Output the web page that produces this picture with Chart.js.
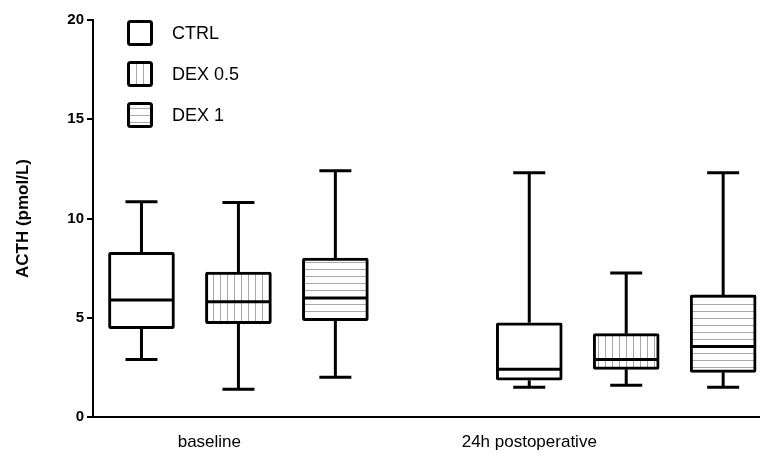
<!DOCTYPE html>
<html>
<head>
<meta charset="utf-8">
<script src="https://cdn.jsdelivr.net/npm/chart.js@4.4.1/dist/chart.umd.min.js"></script>
<style>
html, body { margin: 0; padding: 0; background: #fff; }
#wrap { width: 760px; height: 456px; }
</style>
</head>
<body>
<div id="wrap"><canvas id="acthChart"></canvas></div>
<script>
// 시점 (x축 그룹)
const groups = ['baseline', '24h postoperative'];
// x축 라벨 위치 (그룹 라벨이 놓인 자리)
const groupLabelPos = [1.7, 5.0];

// 시리즈 이름
const seriesNames = ['CTRL', 'DEX 0.5', 'DEX 1'];

// 박스플롯 값 (min, Q1, median, Q3, max) - 그림에서 읽은 값
const ctrlMin = [2.9, 1.5];
const ctrlQ1 = [4.45, 1.85];
const ctrlMedian = [5.9, 2.4];
const ctrlQ3 = [8.3, 4.75];
const ctrlMax = [10.85, 12.3];

const dex05Min = [1.4, 1.6];
const dex05Q1 = [4.7, 2.4];
const dex05Median = [5.8, 2.9];
const dex05Q3 = [7.3, 4.2];
const dex05Max = [10.8, 7.25];

const dex1Min = [2.0, 1.5];
const dex1Q1 = [4.85, 2.25];
const dex1Median = [6.0, 3.55];
const dex1Q3 = [8.0, 6.15];
const dex1Max = [12.4, 12.3];

// y축 눈금
const yTicks = [0, 5, 10, 15, 20];

const canvas = document.getElementById('acthChart');
const ctx = canvas.getContext('2d');

// 줄무늬 패턴 만들기 ('v' 세로, 'h' 가로, 없으면 흰색)
function makePattern(dir) {
    const c = document.createElement('canvas');
    c.width = 7;
    c.height = 7;
    const g = c.getContext('2d');
    g.fillStyle = '#fff';
    g.fillRect(0, 0, 7, 7);
    g.fillStyle = '#a8a8a8';
    if (dir === 'v') g.fillRect(3, 0, 1, 7);
    if (dir === 'h') g.fillRect(0, 3, 7, 1);
    return ctx.createPattern(c, 'repeat');
}

const fills = [makePattern(''), makePattern('v'), makePattern('h')];
const stats = [
    { min: ctrlMin, q1: ctrlQ1, med: ctrlMedian, q3: ctrlQ3, max: ctrlMax },
    { min: dex05Min, q1: dex05Q1, med: dex05Median, q3: dex05Q3, max: dex05Max },
    { min: dex1Min, q1: dex1Q1, med: dex1Median, q3: dex1Q3, max: dex1Max }
];

const BOX_W = 66;

// 박스는 floating bar 로 그림
const datasets = seriesNames.map((name, si) => {
    const s = stats[si];
    return {
        label: name,
        data: groups.map((g, gi) => ({ x: gi * 4 + si + 1, y: [s.q1[gi], s.q3[gi]] })),
        backgroundColor: fills[si],
        borderColor: '#000',
        borderWidth: 3,
        borderRadius: 2,
        borderSkipped: false,
        barThickness: BOX_W,
        grouped: false,
        stats: s
    };
});

// 수염(whisker)과 중앙값 선
const whiskerPlugin = {
    id: 'whiskers',
    afterDatasetsDraw(chart) {
        const c = chart.ctx;
        const xs = chart.scales.x, ys = chart.scales.y;
        c.save();
        c.strokeStyle = '#000';
        c.lineWidth = 3;
        c.lineCap = 'butt';
        chart.data.datasets.forEach((ds) => {
            ds.data.forEach((d, i) => {
                const s = ds.stats;
                const px = xs.getPixelForValue(d.x);
                const yMax = ys.getPixelForValue(s.max[i]);
                const yMin = ys.getPixelForValue(s.min[i]);
                const yQ3 = ys.getPixelForValue(s.q3[i]);
                const yQ1 = ys.getPixelForValue(s.q1[i]);
                const yMed = ys.getPixelForValue(s.med[i]);
                c.beginPath();
                c.moveTo(px, yQ3); c.lineTo(px, yMax);
                c.moveTo(px - 16, yMax); c.lineTo(px + 16, yMax);
                c.moveTo(px, yQ1); c.lineTo(px, yMin);
                c.moveTo(px - 16, yMin); c.lineTo(px + 16, yMin);
                c.moveTo(px - BOX_W / 2 + 2, yMed); c.lineTo(px + BOX_W / 2 - 2, yMed);
                c.stroke();
            });
        });
        c.restore();
    }
};

// 왼쪽 위 세로 범례
const boxLegend = {
    id: 'boxLegend',
    afterDraw(chart) {
        const c = chart.ctx;
        const area = chart.chartArea;
        c.save();
        chart.data.datasets.forEach((ds, i) => {
            const bx = area.left + 34;
            const by = area.top + i * 41;
            c.fillStyle = ds.backgroundColor;
            c.beginPath();
            c.roundRect(bx + 1.5, by + 1.5, 23, 23, 2);
            c.fill();
            c.lineWidth = 3;
            c.strokeStyle = '#000';
            c.stroke();
            c.fillStyle = '#000';
            c.font = '18px "Liberation Sans", Arial, sans-serif';
            c.textBaseline = 'middle';
            c.fillText(ds.label, bx + 45, by + 14);
        });
        c.restore();
    }
};

new Chart(ctx, {
    type: 'bar',
    data: { datasets: datasets },
    options: {
        responsive: true,
        maintainAspectRatio: false,
        animation: false,
        layout: { padding: { top: 20, right: 0, bottom: 0, left: 0 } },
        plugins: {
            legend: { display: false },
            tooltip: { enabled: false }
        },
        scales: {
            x: {
                type: 'linear',
                min: 0.5,
                max: 7.38,
                offset: false,
                grid: { display: false },
                border: { display: true, color: '#000', width: 2 },
                afterBuildTicks: (axis) => {
                    axis.ticks = groupLabelPos.map(v => ({ value: v }));
                },
                afterFit: (scale) => { scale.height = 39; },
                ticks: {
                    autoSkip: false,
                    maxRotation: 0,
                    padding: 7,
                    color: '#000',
                    font: { family: '"Liberation Sans", Arial, sans-serif', size: 17 },
                    callback: (v, i) => groups[i]
                }
            },
            y: {
                min: 0,
                max: 20,
                afterBuildTicks: (axis) => {
                    axis.ticks = yTicks.map(v => ({ value: v }));
                },
                afterFit: (scale) => { scale.width = 93; },
                grid: { drawOnChartArea: false, tickLength: 6, color: '#000', lineWidth: 2 },
                border: { color: '#000', width: 2 },
                ticks: {
                    padding: 3,
                    color: '#000',
                    font: { family: '"Liberation Sans", Arial, sans-serif', size: 15, weight: 'bold' }
                },
                title: {
                    display: true,
                    text: 'ACTH (pmol/L)',
                    color: '#000',
                    padding: { top: 13, bottom: 0 },
                    font: { family: '"Liberation Sans", Arial, sans-serif', size: 17, weight: 'bold' }
                }
            }
        }
    },
    plugins: [whiskerPlugin, boxLegend]
});
</script>
</body>
</html>
